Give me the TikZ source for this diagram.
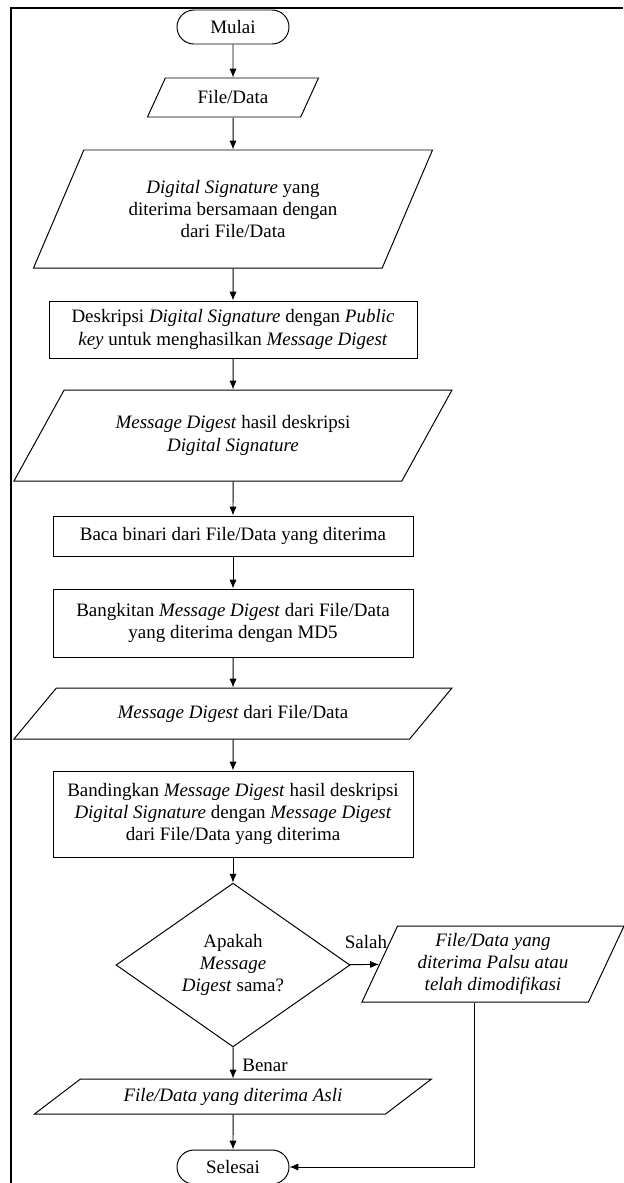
\documentclass[tikz,border=0pt]{standalone}
\usepackage{fontspec}
\setmainfont{Liberation Serif}
\usetikzlibrary{shapes.geometric,arrows.meta}

\tikzset{
	every node/.style={font=\fontsize{13.5pt}{15.8pt}\selectfont},
	terminal/.style={draw, rounded corners=0.425cm, minimum width=2.8cm, minimum height=0.85cm},
	process/.style={draw, align=center, minimum width=9cm, inner sep=2pt},
	data/.style={draw, trapezium, trapezium stretches body, align=center, inner sep=1pt},
	decision/.style={draw, diamond, align=center, inner sep=0pt, minimum width=5.85cm, minimum height=3.9cm},
	line/.style={draw, -{Latex[length=2.2mm,width=1.8mm]}}
}

\begin{document}
\begin{tikzpicture}[line width=0.7pt]
	\useasboundingbox (0,0) rectangle (15.575,-29.575);
	\draw[line width=1.1pt] (0.275,-29.575) -- (0.275,-0.2) -- (15.575,-0.2);
	\node[terminal] (mulai) at (5.825,-0.675) {Mulai};
	\node[data, trapezium left angle=42.2, trapezium right angle=137.8, minimum width=4.275cm, minimum height=0.975cm] (file) at (5.825,-2.4375) {File/Data};
	\node[data, trapezium left angle=50.3, trapezium right angle=129.7, minimum width=9.975cm, minimum height=2.95cm] (ds) at (5.825,-5.225) {\textit{Digital Signature} yang\\diterima bersamaan dengan\\dari File/Data};
	\node[process, minimum width=9.2cm, minimum height=1.425cm] (deskripsi) at (5.825,-8.2375) {Deskripsi \textit{Digital Signature} dengan \textit{Public}\\\textit{key} untuk menghasilkan \textit{Message Digest}};
	\node[data, trapezium left angle=40.1, trapezium right angle=139.9, minimum width=10.95cm, minimum height=2.275cm] (mdhasil) at (5.825,-10.8875) {\textit{Message Digest} hasil deskripsi\\\textit{Digital Signature}};
	\node[process, minimum height=1cm] (baca) at (5.825,-13.4) {Baca binari dari File/Data yang diterima};
	\node[process, minimum height=1.7cm] (bangkit) at (5.825,-15.575) {Bangkitan \textit{Message Digest} dari File/Data\\yang diterima dengan MD5};
	\node[data, trapezium left angle=25.3, trapezium right angle=154.7, minimum width=10.95cm, minimum height=1.275cm] (mddari) at (5.825,-17.8375) {\textit{Message Digest} dari File/Data};
	\node[process, minimum height=2.15cm] (banding) at (5.825,-20.35) {Bandingkan \textit{Message Digest} hasil deskripsi\\\textit{Digital Signature} dengan \textit{Message Digest}\\dari File/Data yang diterima};
	\node[decision] (sama) at (5.825,-24.125) {Apakah\\\textit{Message}\\\textit{Digest} sama?};
	\node[data, trapezium left angle=61.1, trapezium right angle=118.9, minimum width=6.55cm, minimum height=1.9cm] (palsu) at (12.325,-24.1) {\textit{File/Data yang}\\\textit{diterima Palsu atau}\\\textit{telah dimodifikasi}};
	\node[data, trapezium left angle=23.6, trapezium right angle=156.4, minimum width=9.925cm, minimum height=0.875cm] (asli) at (5.825,-27.4125) {\textit{File/Data yang diterima Asli}};
	\node[terminal] (selesai) at (5.825,-29.175) {Selesai};
	\node (salah) at (9.15,-23.55) {Salah};
	\node (benar) at (6.625,-26.625) {Benar};
	\path[line] (mulai) -- (file);
	\path[line] (file) -- (ds);
	\path[line] (ds) -- (deskripsi);
	\path[line] (deskripsi) -- (mdhasil);
	\path[line] (mdhasil) -- (baca);
	\path[line] (baca) -- (bangkit);
	\path[line] (bangkit) -- (mddari);
	\path[line] (mddari) -- (banding);
	\path[line] (banding) -- (sama);
	\path[line] (sama) -- (palsu);
	\path[line] (sama) -- (asli);
	\path[line] (asli) -- (selesai);
	\path[line] (palsu.bottom side) |- (selesai.east);
\end{tikzpicture}
\end{document}
